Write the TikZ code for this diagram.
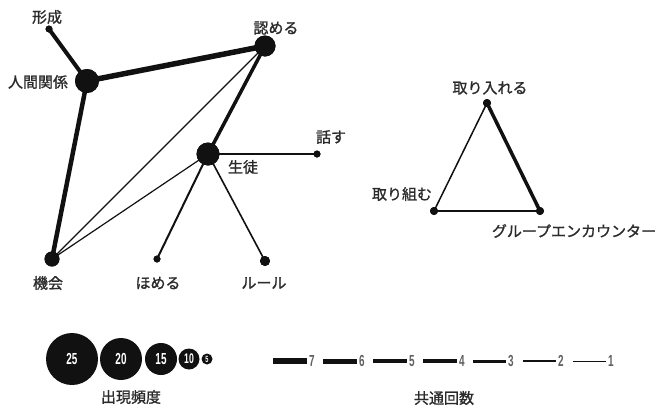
\documentclass[tikz,border=0pt]{standalone}
\usepackage{fontspec}
\newfontfamily\jp[FakeBold=1.2]{Noto Sans CJK JP}
\newfontfamily\numf[FakeStretch=0.62]{Liberation Sans}
\definecolor{txt}{HTML}{2B2B2B}
\definecolor{ink}{HTML}{111111}
\tikzset{
  lbl/.style={font=\jp\fontsize{15}{15}\selectfont, text=txt, inner sep=0pt},
  dot/.style={circle, fill=ink, inner sep=0pt, minimum size=#1},
  ed/.style={draw=ink, line width=#1, line cap=round},
  legc/.style={circle, fill=ink, inner sep=0pt, minimum size=#1, text=white, font=\numf\bfseries\fontsize{16}{16}\selectfont},
  legn/.style={font=\numf\bfseries\fontsize{16}{16}\selectfont, text=txt!75, inner sep=0pt, anchor=west},
  bar/.style={draw=ink, line width=#1}
}
\begin{document}
\begin{tikzpicture}[x=1pt,y=-1pt]
\useasboundingbox[fill=white] (0,0) rectangle (658,407);
% nodes
\node[dot=7] (keisei) at (49,29) {};
\node[dot=24] (ningen) at (87,81) {};
\node[dot=21] (mitomeru) at (265,46) {};
\node[dot=23] (seito) at (208,154) {};
\node[dot=7] (hanasu) at (317,154) {};
\node[dot=15] (kikai) at (52,259) {};
\node[dot=7] (homeru) at (157,259) {};
\node[dot=10] (rule) at (265,261) {};
\node[dot=8] (toriire) at (487,103) {};
\node[dot=8] (torikumu) at (434,211) {};
\node[dot=8] (group) at (540,211) {};
% edges
\draw[ed=4] (keisei.center) -- (ningen.center);
\draw[ed=5.5] (ningen.center) -- (mitomeru.center);
\draw[ed=4.5] (ningen.center) -- (kikai.center);
\draw[ed=3.5] (mitomeru.center) -- (seito.center);
\draw[ed=1.2] (mitomeru.center) -- (kikai.center);
\draw[ed=1.2] (seito.center) -- (kikai.center);
\draw[ed=1.5] (seito.center) -- (hanasu.center);
\draw[ed=2] (seito.center) -- (homeru.center);
\draw[ed=1.6] (seito.center) -- (rule.center);
\draw[ed=3.5] (toriire.center) -- (group.center);
\draw[ed=1.5] (toriire.center) -- (torikumu.center);
\draw[ed=1.5] (torikumu.center) -- (group.center);
% redraw dots on top
\foreach \n/\s in {keisei/7,ningen/24,mitomeru/21,seito/23,hanasu/7,kikai/15,homeru/7,rule/10,toriire/8,torikumu/8,group/8}
  \node[dot=\s] at (\n) {};
% labels
\node[lbl] (l1) at (47,17) {形成};
\node[lbl] (l2) at (38,82) {人間関係};
\node[lbl] (l3) at (276,28) {認める};
\node[lbl] (l4) at (243,167) {生徒};
\node[lbl] (l5) at (331,137) {話す};
\node[lbl] (l6) at (48,283) {機会};
\node[lbl] (l7) at (158,283) {ほめる};
\node[lbl] (l8) at (264,283) {ルール};
\node[lbl] (l9) at (490,88) {取り入れる};
\node[lbl] (l10) at (402,194) {取り組む};
\node[lbl] (l11) at (574,231) {グループエンカウンター};
% frequency legend
\node[legc=52] (c25) at (72,359) {25};
\node[legc=42] (c20) at (121,359) {20};
\node[legc=32] (c15) at (161,359) {15};
\node[legc=21, font=\numf\bfseries\fontsize{14}{14}\selectfont] (c10) at (189,359) {10};
\node[legc=11, font=\numf\bfseries\fontsize{9}{9}\selectfont] (c5) at (207,359) {5};
\node[lbl] (freq) at (131,397) {出現頻度};
% co-occurrence legend
\coordinate (b7a) at (273,361); \coordinate (b7b) at (307,361);
\coordinate (b6a) at (323,361); \coordinate (b6b) at (357,361);
\coordinate (b5a) at (373,361); \coordinate (b5b) at (407,361);
\coordinate (b4a) at (423,361); \coordinate (b4b) at (457,361);
\coordinate (b3a) at (473,361); \coordinate (b3b) at (506,361);
\coordinate (b2a) at (523,361); \coordinate (b2b) at (556,361);
\coordinate (b1a) at (573,361); \coordinate (b1b) at (606,361);
\draw[bar=6] (b7a) -- (b7b); \node[legn] (n7) at (309,361) {7};
\draw[bar=5] (b6a) -- (b6b); \node[legn] (n6) at (359,361) {6};
\draw[bar=4.5] (b5a) -- (b5b); \node[legn] (n5) at (409,361) {5};
\draw[bar=4] (b4a) -- (b4b); \node[legn] (n4) at (459,361) {4};
\draw[bar=3] (b3a) -- (b3b); \node[legn] (n3) at (508,361) {3};
\draw[bar=2] (b2a) -- (b2b); \node[legn] (n2) at (558,361) {2};
\draw[bar=1] (b1a) -- (b1b); \node[legn] (n1) at (608,361) {1};
\node[lbl] (co) at (444,398) {共通回数};
\end{tikzpicture}
\end{document}
